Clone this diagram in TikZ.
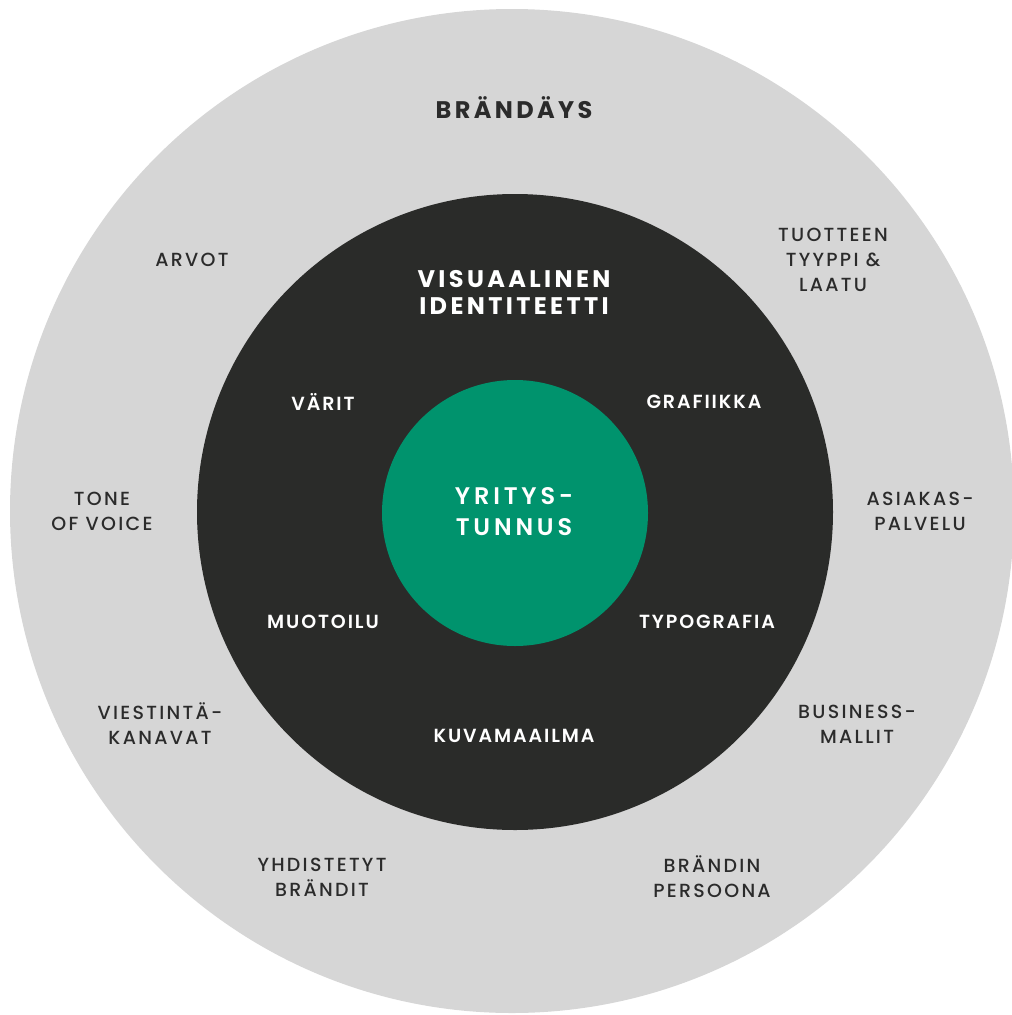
\documentclass[tikz,border=0pt]{standalone}
\usepackage{fontspec}
\setmainfont{Poppins}[LetterSpace=9]
\newfontfamily\mediumfont{Poppins Medium}[LetterSpace=12]
\newfontfamily\semifont{Poppins SemiBold}[LetterSpace=10]
\usepackage{xcolor}
\usepackage{tikz}
\usetikzlibrary{positioning}
\definecolor{ringGray}{HTML}{D6D6D6}
\definecolor{coreDark}{HTML}{2A2B29}
\definecolor{coreGreen}{HTML}{00936D}
\definecolor{labelText}{HTML}{2B2B2B}

\tikzset{
  disc/.style={circle, inner sep=0pt, outer sep=0pt},
  ringLabel/.style={font=\mediumfont\fontsize{19}{25}\selectfont, text=labelText, align=center},
  coreLabel/.style={font=\semifont\fontsize{19}{25}\selectfont, text=white, align=center},
  titleLabel/.style={font=\bfseries\addfontfeatures{LetterSpace=14}\fontsize{24}{27}\selectfont, align=center},
}

\begin{document}
\begin{tikzpicture}[x=1pt, y=-1pt]
        \useasboundingbox (0,0) rectangle (1012,1015);
        % three rings
        \node[disc, fill=ringGray, minimum size=1004pt] (brand) at (512,511) {};
        \node[disc, fill=coreDark, minimum size=636pt] (visual) at (515,512) {};
        \node[disc, fill=coreGreen, minimum size=266pt] (logo) at (515,513) {};
        % outer ring
        \node[titleLabel, text=labelText] (brandTitle) at (514,108) {BRÄNDÄYS};
        \node[ringLabel] (values) at (192,260) {ARVOT};
        \node[ringLabel] (product) at (833,260) {TUOTTEEN\\TYYPPI \&\\LAATU};
        \node[ringLabel] (tone) at (102,511) {TONE\\OF VOICE};
        \node[ringLabel] (service) at (920,511) {ASIAKAS-\\PALVELU};
        \node[ringLabel] (channels) at (160,724) {VIESTINTÄ-\\KANAVAT};
        \node[ringLabel] (business) at (857,724) {BUSINESS-\\MALLIT};
        \node[ringLabel] (merged) at (322,877) {YHDISTETYT\\BRÄNDIT};
        \node[ringLabel] (persona) at (712,877) {BRÄNDIN\\PERSOONA};
        % dark ring
        \node[titleLabel, text=white] (visualTitle) at (514,292) {VISUAALINEN\\IDENTITEETTI};
        \node[coreLabel] (colours) at (323,402) {VÄRIT};
        \node[coreLabel] (graphics) at (704,402) {GRAFIIKKA};
        \node[coreLabel] (shapes) at (323,622) {MUOTOILU};
        \node[coreLabel] (typo) at (707,622) {TYPOGRAFIA};
        \node[coreLabel] (imagery) at (514,736) {KUVAMAAILMA};
        % centre
        \node[coreLabel, font=\semifont\addfontfeatures{LetterSpace=16}\fontsize{24}{31}\selectfont] (logoTitle) at (514,512) {YRITYS-\\TUNNUS};
\end{tikzpicture}
\end{document}
